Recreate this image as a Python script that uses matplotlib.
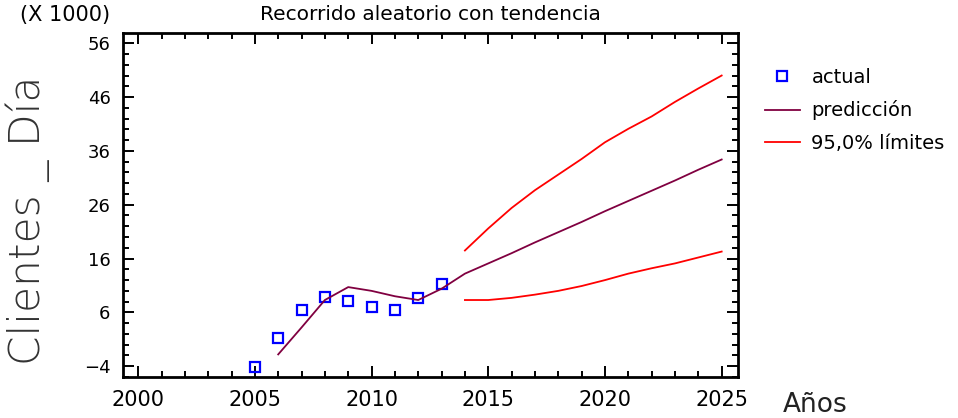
import matplotlib
matplotlib.use("Agg")
import matplotlib.pyplot as plt
from matplotlib.ticker import MultipleLocator, FixedLocator

plt.rcParams['font.family'] = ['DejaVu Sans']

# Observed daily clients (thousands)
years_actual = [2005, 2006, 2007, 2008, 2009, 2010, 2011, 2012, 2013]
actual = [-4.2, 1.3, 6.4, 8.9, 8.1, 7.0, 6.4, 8.6, 11.2]

# One-step predictions and forecasts (thousands)
years_pred = [2006, 2007, 2008, 2009, 2010, 2011, 2012, 2013,
              2014, 2015, 2016, 2017, 2018, 2019, 2020, 2021, 2022, 2023, 2024, 2025]
pred = [-1.8, 3.2, 8.3, 10.7, 10.0, 9.0, 8.3, 10.4,
        13.2, 15.1, 17.0, 19.0, 20.9, 22.8, 24.8, 26.7, 28.6, 30.5, 32.5, 34.4]

# 95% forecast limits
years_lim = [2014, 2015, 2016, 2017, 2018, 2019, 2020, 2021, 2022, 2023, 2024, 2025]
upper = [17.5, 21.6, 25.4, 28.7, 31.6, 34.5, 37.6, 40.1, 42.4, 45.1, 47.6, 50.0]
lower = [8.3, 8.3, 8.7, 9.3, 10.0, 10.9, 12.0, 13.2, 14.2, 15.1, 16.2, 17.3]

x_ticks = [2000, 2005, 2010, 2015, 2020, 2025]
y_ticks = [-4, 6, 16, 26, 36, 46, 56]

fig = plt.figure(figsize=(9.58, 4.18), dpi=100)
ax = fig.add_axes([123 / 958, 1 - 377 / 418, (738 - 123) / 958, (377 - 33) / 418])

h_act, = ax.plot(years_actual, actual, linestyle='none', marker='s', markersize=6.5,
                 markerfacecolor='none', markeredgecolor='#0000ff', markeredgewidth=1.6,
                 label='actual')
h_pred, = ax.plot(years_pred, pred, color='#800040', linewidth=1.3, label='predicción')
h_up, = ax.plot(years_lim, upper, color='#ff0000', linewidth=1.3, label='95,0% límites')
ax.plot(years_lim, lower, color='#ff0000', linewidth=1.3)

ax.set_xlim(1999.35, 2025.7)
ax.set_ylim(-6.0, 57.9)
ax.xaxis.set_major_locator(FixedLocator(x_ticks))
ax.yaxis.set_major_locator(FixedLocator(y_ticks))
ax.xaxis.set_minor_locator(MultipleLocator(1))
ax.yaxis.set_minor_locator(FixedLocator([v for v in range(-6, 58, 2)]))

ax.tick_params(which='both', direction='in', top=True, right=True, colors='black', width=1.4)
ax.tick_params(which='major', length=8)
ax.tick_params(which='minor', length=4)
ax.tick_params(axis='x', which='major', labelsize=15, pad=9)
ax.tick_params(axis='y', which='major', labelsize=13, pad=9)
for s in ax.spines.values():
    s.set_linewidth(2)
    s.set_color('black')

fig.text(430 / 958, 1 - 15 / 418, 'Recorrido aleatorio con tendencia', ha='center',
         va='center', fontsize=14.5)
fig.text(110 / 958, 1 - 15 / 418, '(X 1000)', ha='right', va='center', fontsize=15)
fig.text(28 / 958, 1 - 220 / 418, 'Clientes _ Día', rotation=90, ha='center', va='center',
         fontsize=30.5, color='#333333', fontweight='light')
fig.text(783 / 958, 1 - 412 / 418, 'Años', ha='left', va='baseline', fontsize=19,
         color='#222222')

leg = fig.legend(handles=[h_act, h_pred, h_up], loc='upper left',
                 bbox_to_anchor=(755 / 958, 1 - 58 / 418), frameon=False, fontsize=14,
                 handlelength=1.8, handletextpad=0.6, labelspacing=0.7, borderpad=0)

fig.savefig('out.png', dpi=100)
